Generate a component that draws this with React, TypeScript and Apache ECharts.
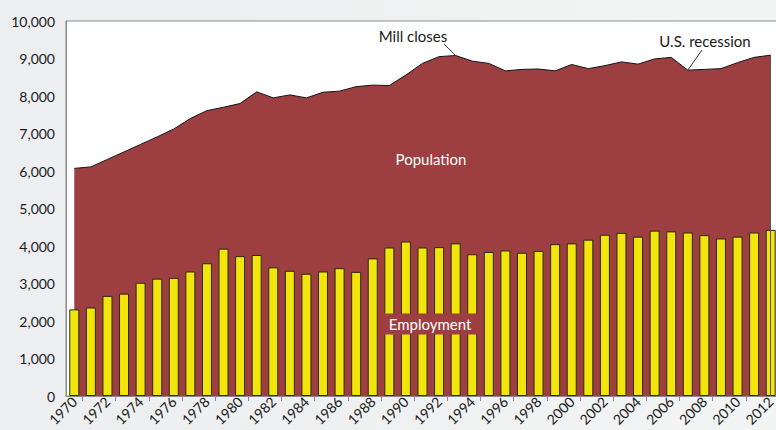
import React, { useEffect, useRef } from "react";
import * as echarts from "echarts";

const years: string[] = [
  "1970","1971","1972","1973","1974","1975","1976","1977","1978","1979",
  "1980","1981","1982","1983","1984","1985","1986","1987","1988","1989",
  "1990","1991","1992","1993","1994","1995","1996","1997","1998","1999",
  "2000","2001","2002","2003","2004","2005","2006","2007","2008","2009",
  "2010","2011","2012",
];

const population: number[] = [
  6070, 6110, 6310, 6510, 6710, 6910, 7120, 7400, 7610, 7700,
  7800, 8110, 7950, 8030, 7950, 8100, 8130, 8250, 8290, 8280,
  8560, 8870, 9050, 9080, 8930, 8870, 8670, 8710, 8720, 8670,
  8840, 8730, 8810, 8910, 8850, 8990, 9030, 8690, 8710, 8730,
  8890, 9030, 9090,
];

const employment: number[] = [
  2310, 2360, 2670, 2730, 3020, 3130, 3150, 3320, 3540, 3930,
  3730, 3760, 3430, 3340, 3260, 3320, 3410, 3310, 3670, 3960,
  4120, 3960, 3970, 4070, 3780, 3840, 3880, 3820, 3870, 4050,
  4070, 4170, 4300, 4350, 4250, 4410, 4390, 4360, 4290, 4200,
  4250, 4360, 4430,
];

const yTicks = { min: 0, max: 10000, interval: 1000 };

const annotations = [
  { text: "Mill closes", year: "1993", labelX: 413, labelY: 36, lineFrom: [444, 44] },
  { text: "U.S. recession", year: "2007", labelX: 705, labelY: 41, lineFrom: [702, 50] },
];

const AREA = "#9d3e41";
const BAR = "#f2e50c";
const FONT = "Lato";

export default function App() {
  const ref = useRef<HTMLDivElement>(null);

  useEffect(() => {
    if (!ref.current) return;
    const chart = echarts.init(ref.current, undefined, { renderer: "svg" });
    chart.setOption({
      animation: false,
      backgroundColor: {
        type: "linear", x: 0, y: 0, x2: 1, y2: 0,
        colorStops: [
          { offset: 0, color: "#eceeef" },
          { offset: 1, color: "#f3f4f4" },
        ],
      },
      textStyle: { fontFamily: FONT },
      grid: {
        left: 66, top: 21, width: 713, bottom: 34,
        show: true, backgroundColor: "#ffffff", borderColor: "#8a8a8a", borderWidth: 1,
        containLabel: false,
        outerBoundsMode: "none",
      },
      xAxis: {
        type: "category",
        data: years,
        boundaryGap: true,
        axisLine: { show: true, lineStyle: { color: "#8a8a8a", width: 1 } },
        axisTick: {
          show: true,
          alignWithLabel: false,
          interval: (i: number) => i % 2 === 1,
          length: 5,
          lineStyle: { color: "#8a8a8a" },
        },
        axisLabel: {
          interval: (i: number) => i % 2 === 0,
          rotate: 45,
          fontSize: 14,
          color: "#1a1a1a",
          fontFamily: FONT,
          margin: 3,
        },
        splitLine: { show: false },
      },
      yAxis: {
        type: "value",
        min: yTicks.min,
        max: yTicks.max,
        interval: yTicks.interval,
        axisLine: { show: true, lineStyle: { color: "#8a8a8a" } },
        axisTick: { show: false },
        splitLine: { show: false },
        axisLabel: {
          fontSize: 14,
          color: "#1a1a1a",
          fontFamily: FONT,
          margin: 11,
          formatter: (v: number) => v.toLocaleString("en-US"),
        },
      },
      series: [
        {
          name: "Population",
          type: "line",
          data: population,
          symbol: "none",
          lineStyle: { color: "#111", width: 1 },
          areaStyle: { color: AREA, opacity: 1 },
          z: 1,
          markLine: {
            silent: true,
            symbol: "none",
            label: { show: false },
            lineStyle: { color: "#555", width: 1, type: "solid" },
            data: [[
              { coord: [years[years.length - 1], 0] },
              { coord: [years[years.length - 1], population[population.length - 1]] },
            ]],
          },
        },
        {
          name: "Employment",
          type: "bar",
          data: employment,
          barWidth: 10,
          itemStyle: { color: BAR, borderColor: "#2a2a10", borderWidth: 1 },
          z: 2,
        },
      ],
    });

    const graphics: any[] = [];
    annotations.forEach((a) => {
      const idx = years.indexOf(a.year);
      const p = chart.convertToPixel({ gridIndex: 0 }, [idx, population[idx]]) as number[];
      graphics.push({
        type: "text",
        x: a.labelX, y: a.labelY,
        style: {
          text: a.text, fill: "#1a1a1a", font: `15px ${FONT}`,
          textAlign: "center", textVerticalAlign: "middle",
        },
        z: 10,
      });
      graphics.push({
        type: "line",
        shape: { x1: a.lineFrom[0], y1: a.lineFrom[1], x2: p[0], y2: p[1] },
        style: { stroke: "#333", lineWidth: 1 },
        z: 10,
      });
    });
    graphics.push({
      type: "text", x: 431, y: 159,
      style: {
        text: "Population", fill: "#ffffff", font: `15px ${FONT}`,
        textAlign: "center", textVerticalAlign: "middle",
      },
      z: 10,
    });
    graphics.push({
      type: "text", x: 430, y: 324,
      style: {
        text: "Employment", fill: "#ffffff", font: `15px ${FONT}`,
        textAlign: "center", textVerticalAlign: "middle",
        backgroundColor: AREA, padding: [3, 8, 3, 8],
      },
      z: 10,
    });
    chart.setOption({ graphic: graphics });

    return () => chart.dispose();
  }, []);

  return (
    <div
      ref={ref}
      style={{ position: "fixed", left: 0, top: 0, width: 776, height: 430 }}
    />
  );
}
